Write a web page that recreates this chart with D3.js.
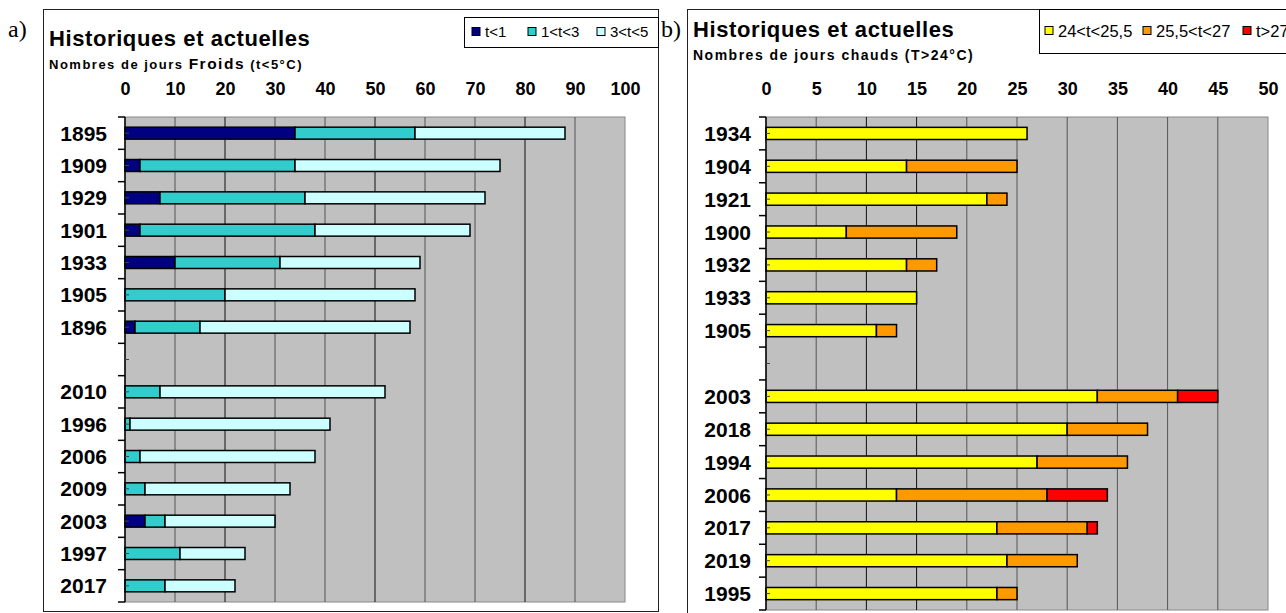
<!DOCTYPE html>
<html>
<head>
<meta charset="utf-8">
<script src="https://cdn.jsdelivr.net/npm/d3@7"></script>
<style>
  body { margin: 0; background: #fff; }
  svg { display: block; font-family: "Liberation Sans", Arial, sans-serif; }
</style>
</head>
<body>
<div id="content"></div>
<script>
// a) jours froids
const coldYears = ['1895', '1909', '1929', '1901', '1933', '1905', '1896', '', '2010', '1996', '2006', '2009', '2003', '1997', '2017'];
const coldT1 = [34, 3, 7, 3, 10, 0, 2, null, 0, 0, 0, 0, 4, 0, 0];
const coldT1T3 = [24, 31, 29, 35, 21, 20, 13, null, 7, 1, 3, 4, 4, 11, 8];
const coldT3T5 = [30, 41, 36, 31, 28, 38, 42, null, 45, 40, 35, 29, 22, 13, 14];
const coldKeys = ['t<1', '1<t<3', '3<t<5'];
const coldColors = ['#000080', '#33CCCC', '#CCFFFF'];
const coldTicks = [0, 10, 20, 30, 40, 50, 60, 70, 80, 90, 100];

// b) jours chauds
const hotYears = ['1934', '1904', '1921', '1900', '1932', '1933', '1905', '', '2003', '2018', '1994', '2006', '2017', '2019', '1995'];
const hot24 = [26, 14, 22, 8, 14, 15, 11, null, 33, 30, 27, 13, 23, 24, 23];
const hot255 = [0, 11, 2, 11, 3, 0, 2, null, 8, 8, 9, 15, 9, 7, 2];
const hot27 = [0, 0, 0, 0, 0, 0, 0, null, 4, 0, 0, 6, 1, 0, 0];
const hotKeys = ['24<t<25,5', '25,5<t<27', 't>27'];
const hotColors = ['#FFFF00', '#FF9900', '#FF0000'];
const hotTicks = [0, 5, 10, 15, 20, 25, 30, 35, 40, 45, 50];

const width = 1286, height = 613;
const svg = d3.select('#content').append('svg')
    .attr('width', width)
    .attr('height', height);

const drawChart = opt => {
    const g = svg.append('g');

    // cadre
    g.append('rect')
        .attr('x', opt.frame[0] + 0.5).attr('y', opt.frame[1] + 0.5)
        .attr('width', opt.frame[2]).attr('height', opt.frame[3])
        .attr('fill', '#fff').attr('stroke', '#222');

    // lettre a) / b)
    svg.append('text')
        .attr('x', opt.letterX).attr('y', 37)
        .style('font-family', '"Liberation Serif", "Times New Roman", serif')
        .style('font-size', '24px')
        .text(opt.letter);

    // titres
    g.append('text')
        .attr('x', opt.frame[0] + 6).attr('y', opt.titleY)
        .style('font-size', '22px').style('font-weight', 'bold')
        .style('letter-spacing', '0.6px')
        .text('Historiques et actuelles');

    const sub = g.append('text')
        .attr('x', opt.frame[0] + 6).attr('y', opt.titleY + 23)
        .style('font-weight', 'bold').style('letter-spacing', opt.subSpacing);
    opt.subtitle.forEach(p => sub.append('tspan').style('font-size', p[1]).text(p[0]));

    // echelles
    const x = d3.scaleLinear().domain([0, opt.max]).range([opt.x0, opt.x1]);
    const y = d3.scaleBand().domain(opt.years.map((d, i) => i)).range([opt.top, opt.bottom]);
    const barH = y.step() * 0.37;

    // zone grise
    g.append('rect')
        .attr('x', x(0)).attr('y', opt.top)
        .attr('width', x(opt.max) - x(0)).attr('height', opt.bottom - opt.top)
        .attr('fill', '#C0C0C0').attr('stroke', '#888');

    // grille verticale
    g.append('g').selectAll('line')
        .data(opt.ticks.slice(1, -1))
        .join('line')
        .attr('x1', d => x(d)).attr('x2', d => x(d))
        .attr('y1', opt.top).attr('y2', opt.bottom)
        .attr('stroke', d => opt.darkGrid.includes(d) ? '#111' : '#555')
        .attr('stroke-width', 1);

    // graduations du haut
    const xAxis = g.append('g')
        .attr('transform', `translate(0, ${opt.top})`)
        .call(d3.axisTop(x).tickValues(opt.ticks).tickSize(0).tickPadding(opt.top - 95));
    xAxis.select('.domain').remove();
    xAxis.selectAll('text')
        .style('font-family', '"Liberation Sans", Arial, sans-serif')
        .style('font-size', '18px').style('font-weight', 'bold').attr('fill', '#000');

    // barres empilees
    const rows = opt.years.map((yr, i) => ({ i, yr, a: opt.s1[i], b: opt.s2[i], c: opt.s3[i] }))
        .filter(d => d.yr !== '');
    const stack = d3.stack().keys(['a', 'b', 'c'])(rows);

    g.append('g').selectAll('g')
        .data(stack)
        .join('g')
        .attr('fill', (d, k) => opt.colors[k])
        .selectAll('rect')
        .data(d => d.filter(s => s[1] > s[0]))
        .join('rect')
        .attr('x', s => x(s[0]))
        .attr('y', s => y(s.data.i) + (y.bandwidth() - barH) / 2)
        .attr('width', s => x(s[1]) - x(s[0]))
        .attr('height', barH)
        .attr('stroke', '#000')
        .attr('stroke-width', 1.5);

    // axe vertical
    g.append('line')
        .attr('x1', x(0)).attr('x2', x(0))
        .attr('y1', opt.top).attr('y2', opt.bottom)
        .attr('stroke', '#000').attr('stroke-width', 1.5);

    // traits aux limites des categories
    g.append('g').selectAll('line')
        .data(d3.range(opt.years.length + 1))
        .join('line')
        .attr('x1', x(0) - 7).attr('x2', x(0))
        .attr('y1', k => opt.top + k * y.step()).attr('y2', k => opt.top + k * y.step())
        .attr('stroke', '#000').attr('stroke-width', 1.5);

    // petits traits au centre
    g.append('g').selectAll('line')
        .data(opt.years.map((d, i) => i))
        .join('line')
        .attr('x1', x(0)).attr('x2', x(0) + 4)
        .attr('y1', i => y(i) + y.bandwidth() / 2).attr('y2', i => y(i) + y.bandwidth() / 2)
        .attr('stroke', '#444').attr('stroke-width', 1);

    // annees
    g.append('g').selectAll('text')
        .data(opt.years.map((d, i) => i))
        .join('text')
        .attr('x', x(0) - opt.labelPad)
        .attr('y', i => y(i) + y.bandwidth() / 2)
        .attr('dy', '0.36em')
        .attr('text-anchor', 'end')
        .style('font-size', '21px').style('font-weight', 'bold')
        .text(i => opt.years[i]);

    // legende
    const lg = g.append('g');
    lg.append('rect')
        .attr('x', opt.legend.x + 0.5).attr('y', opt.legend.y + 0.5)
        .attr('width', opt.legend.w).attr('height', opt.legend.h)
        .attr('fill', '#fff').attr('stroke', '#000');
    const cy = opt.legend.y + opt.legend.h / 2;
    opt.keys.forEach((k, j) => {
        const lx = opt.legend.items[j];
        lg.append('rect')
            .attr('x', lx).attr('y', cy - 4.5)
            .attr('width', 8).attr('height', 8)
            .attr('fill', opt.colors[j]).attr('stroke', '#000');
        lg.append('text')
            .attr('x', lx + 13).attr('y', cy)
            .attr('dy', '0.36em')
            .style('font-size', opt.legend.font)
            .text(k);
    });
};

drawChart({
    letter: 'a)', letterX: 8,
    frame: [43, 9, 615, 602],
    titleY: 46,
    subtitle: [['Nombres de jours ', '13px'], ['Froids', '15.5px'], [' (t<5°C)', '13px']],
    subSpacing: '1.5px',
    years: coldYears, s1: coldT1, s2: coldT1T3, s3: coldT3T5,
    colors: coldColors, keys: coldKeys, ticks: coldTicks, darkGrid: [20, 50, 80],
    max: 100, x0: 125, x1: 625, top: 117, bottom: 602, labelPad: 18,
    legend: { x: 464, y: 17, w: 194, h: 30, font: '15px', items: [472, 528, 597] }
});

drawChart({
    letter: 'b)', letterX: 661,
    frame: [687, 9, 640, 640],
    titleY: 37,
    subtitle: [['Nombres de jours chauds (T>24°C)', '14px']],
    subSpacing: '1.5px',
    years: hotYears, s1: hot24, s2: hot255, s3: hot27,
    colors: hotColors, keys: hotKeys, ticks: hotTicks, darkGrid: [10, 15],
    max: 50, x0: 766, x1: 1268, top: 117, bottom: 610, labelPad: 15,
    legend: { x: 1039, y: 9, w: 300, h: 44, font: '16.5px', items: [1045, 1143, 1243] }
});
</script>
</body>
</html>
